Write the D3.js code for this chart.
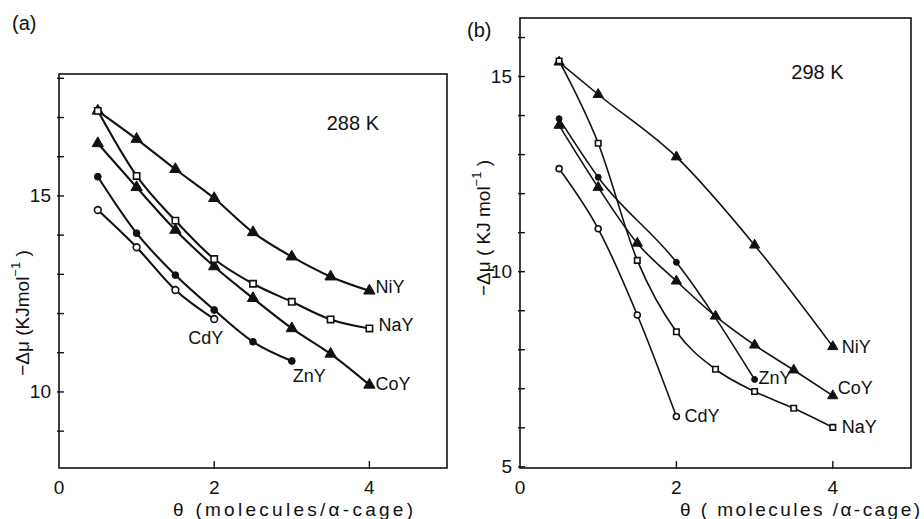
<!DOCTYPE html>
<html>
<head>
<meta charset="utf-8">
<script src="https://cdnjs.cloudflare.com/ajax/libs/d3/7.8.5/d3.min.js"></script>
<style>
  body { margin: 0; background: #fff; }
  svg { display: block; }
  text { font-family: "Liberation Sans", Arial, sans-serif; fill: #111; }
</style>
</head>
<body>
<svg id="fig" width="924" height="519"></svg>
<script>
"use strict";

// Data ////////////////////////////////////////////////////
var thetaFull = [0.5, 1, 1.5, 2, 2.5, 3, 3.5, 4];

// (a) 288 K
var a288NiY = [17.17, 16.45, 15.68, 14.94, 14.07, 13.45, 12.94, 12.58];
var a288NaY = [17.17, 15.51, 14.37, 13.39, 12.76, 12.30, 11.85, 11.62];
var a288CoY = [16.34, 15.22, 14.13, 13.20, 12.39, 11.62, 10.97, 10.18];
var a288ZnYx = [0.5, 1, 1.5, 2, 2.5, 3];
var a288ZnY = [15.49, 14.05, 12.98, 12.09, 11.28, 10.79];
var a288CdYx = [0.5, 1, 1.5, 2];
var a288CdY = [14.64, 13.69, 12.60, 11.86];

// (b) 298 K
var b298NiYx = [0.5, 1, 2, 3, 4];
var b298NiY = [15.37, 14.54, 12.94, 10.68, 8.08];
var b298NaY = [15.40, 13.29, 10.29, 8.46, 7.50, 6.93, 6.50, 6.01];
var b298CoY = [13.75, 12.16, 10.73, 9.76, 8.86, 8.12, 7.48, 6.82];
var b298ZnYx = [0.5, 1, 2, 3];
var b298ZnY = [13.92, 12.42, 10.24, 7.24];
var b298CdYx = [0.5, 1, 1.5, 2];
var b298CdY = [12.64, 11.10, 8.89, 6.29];

var xTicks = [0, 2, 4];
var yTicksA = [9, 10, 11, 12, 13, 14, 15, 16, 17, 18];
var yLabelsA = [10, 15];
var yTicksB = [5, 6, 7, 8, 9, 10, 11, 12, 13, 14, 15, 16];
var yLabelsB = [5, 10, 15];

var zip = function(xs, ys) {
  return ys.map(function(v, i) { return { x: xs[i], y: v }; });
};

var app = {

  // One panel /////////////////////////////////////////////
  panel: function(p) {
  //////////////////////////////////////////////////////////

    var svg = d3.select("#fig"),
        g = svg.append("g");

    var x = d3.scaleLinear().domain([0, 5]).range(p.xr),
        y = d3.scaleLinear().domain(p.yd).range(p.yr);

    // Frame
    g.append("rect")
        .attr("x", p.xr[0]).attr("y", p.yr[1])
        .attr("width", p.xr[1] - p.xr[0])
        .attr("height", p.yr[0] - p.yr[1])
        .attr("fill", "none")
        .attr("stroke", "#111")
        .attr("stroke-width", 1.6);

    // Y ticks (inward) and labels
    g.selectAll(".yt").data(p.yTicks).enter().append("line")
        .attr("x1", p.xr[0] - 2).attr("x2", p.xr[0] + 5)
        .attr("y1", function(d) { return y(d); })
        .attr("y2", function(d) { return y(d); })
        .attr("stroke", "#111").attr("stroke-width", 1.4);

    g.selectAll(".yl").data(p.yLabels).enter().append("text")
        .attr("x", p.xr[0] - 8)
        .attr("y", function(d) { return y(d); })
        .attr("text-anchor", "end")
        .attr("dominant-baseline", "central")
        .attr("font-size", 19)
        .text(function(d) { return d; });

    // X ticks and labels
    g.selectAll(".xt").data(xTicks.slice(1)).enter().append("line")
        .attr("x1", function(d) { return x(d); })
        .attr("x2", function(d) { return x(d); })
        .attr("y1", p.yr[0] + 1).attr("y2", p.yr[0] - 7)
        .attr("stroke", "#111").attr("stroke-width", 1.4);

    g.selectAll(".xl").data(xTicks).enter().append("text")
        .attr("x", function(d) { return x(d); })
        .attr("y", p.yr[0] + 19)
        .attr("text-anchor", "middle")
        .attr("dominant-baseline", "central")
        .attr("font-size", 19)
        .text(function(d) { return d; });

    // Axis titles
    g.append("text")
        .attr("x", p.xTitle[0]).attr("y", p.xTitle[1])
        .attr("dominant-baseline", "central")
        .attr("font-size", 19)
        .attr("textLength", p.xTitle[2])
        .attr("lengthAdjust", "spacing")
        .text(p.xTitleText);

    var yt = g.append("text")
        .attr("transform", "translate(" + p.yTitle[0] + "," + p.yTitle[1] + ") rotate(-90)")
        .attr("text-anchor", "middle")
        .attr("dominant-baseline", "central")
        .attr("font-size", 19);
    yt.append("tspan").text(p.yTitleText[0]);
    yt.append("tspan").attr("font-size", 13).attr("dy", -7).text("\u22121");
    yt.append("tspan").attr("dy", 7).text(p.yTitleText[1]);

    // Panel letter and temperature
    g.append("text")
        .attr("x", p.letter[0]).attr("y", p.letter[1])
        .attr("dominant-baseline", "central")
        .attr("font-size", 20)
        .text(p.letterText);

    g.append("text")
        .attr("x", x(p.temp[0])).attr("y", y(p.temp[1]))
        .attr("dominant-baseline", "central")
        .attr("font-size", 20)
        .text(p.tempText);

    // Series
    var line = d3.line()
        .x(function(d) { return x(d.x); })
        .y(function(d) { return y(d.y); })
        .curve(d3.curveMonotoneX);

    var tri = d3.symbol().type(d3.symbolTriangle).size(p.ms[0]),
        sq = d3.symbol().type(d3.symbolSquare).size(p.ms[1]),
        circ = d3.symbol().type(d3.symbolCircle).size(p.ms[2]);

    p.series.forEach(function(s) {
      g.append("path")
          .attr("d", line(s.pts))
          .attr("fill", "none")
          .attr("stroke", "#111")
          .attr("stroke-width", p.lw);

      var shape = s.mark === "tri" ? tri : (s.mark === "sq" ? sq : circ);
      g.selectAll(null).data(s.pts).enter().append("path")
          .attr("transform", function(d) { return "translate(" + x(d.x) + "," + y(d.y) + ")"; })
          .attr("d", shape)
          .attr("fill", s.open ? "#fff" : "#111")
          .attr("stroke", "#111")
          .attr("stroke-width", s.open ? 1.6 : 1);

      var last = s.pts[s.pts.length - 1];
      g.append("text")
          .attr("x", x(last.x) + s.off[0])
          .attr("y", y(last.y) + s.off[1])
          .attr("dominant-baseline", "central")
          .attr("font-size", 18)
          .text(s.name);
    });
  },

  //////////////////////////////////////////////////////////
  runApp: function() {
  //////////////////////////////////////////////////////////
    app.panel({
      xr: [59, 447], yd: [8.06, 18.11], yr: [468, 74],
      yTicks: yTicksA, yLabels: yLabelsA,
      xTitle: [173, 509, 240], xTitleText: "\u03b8 (molecules/\u03b1-cage)",
      yTitle: [22, 313], yTitleText: ["\u2212\u0394\u03bc (KJmol", " )"],
      letter: [12, 23], letterText: "(a)",
      temp: [3.45, 16.85], tempText: "288 K",
      lw: 2.1, ms: [55, 40, 36],
      series: [
        { name: "NiY", mark: "tri", pts: zip(thetaFull, a288NiY), off: [6, -4] },
        { name: "CoY", mark: "tri", pts: zip(thetaFull, a288CoY), off: [6, -1] },
        { name: "ZnY", mark: "circ", pts: zip(a288ZnYx, a288ZnY), off: [1, 15] },
        { name: "CdY", mark: "circ", open: true, pts: zip(a288CdYx, a288CdY), off: [-26, 19] },
        { name: "NaY", mark: "sq", open: true, pts: zip(thetaFull, a288NaY), off: [9, -3] }
      ]
    });

    app.panel({
      xr: [520, 911], yd: [4.97, 16.5], yr: [468, 18],
      yTicks: yTicksB, yLabels: yLabelsB,
      xTitle: [680, 509, 240], xTitleText: "\u03b8 ( molecules /\u03b1-cage)",
      yTitle: [483, 228], yTitleText: ["\u2212\u0394\u03bc ( KJ mol", " )"],
      letter: [467, 30], letterText: "(b)",
      temp: [3.47, 15.12], tempText: "298 K",
      lw: 1.6, ms: [45, 30, 28],
      series: [
        { name: "NiY", mark: "tri", pts: zip(b298NiYx, b298NiY), off: [9, 0] },
        { name: "CoY", mark: "tri", pts: zip(thetaFull, b298CoY), off: [5, -8] },
        { name: "ZnY", mark: "circ", pts: zip(b298ZnYx, b298ZnY), off: [4, -1] },
        { name: "CdY", mark: "circ", open: true, pts: zip(b298CdYx, b298CdY), off: [8, 0] },
        { name: "NaY", mark: "sq", open: true, pts: zip(thetaFull, b298NaY), off: [9, 0] }
      ]
    });
  }

};

app.runApp();
</script>
</body>
</html>
